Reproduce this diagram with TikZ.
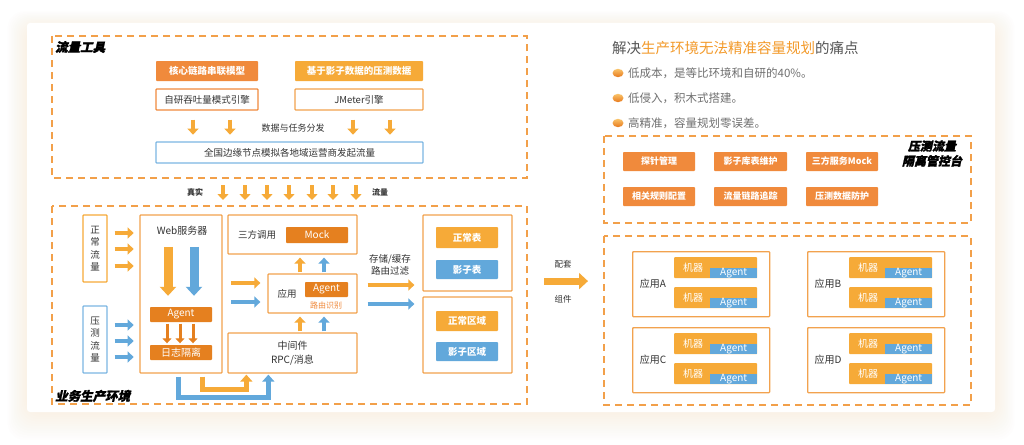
\documentclass[tikz,border=0pt]{standalone}
\usepackage{fontspec}
\setmainfont{Noto Sans CJK SC}
\newfontfamily\headfont{Noto Sans CJK SC}[FakeSlant=0.22,FakeBold=1.5]
\usetikzlibrary{arrows.meta,calc}
\definecolor{oD}{HTML}{E5801F}
\definecolor{oM}{HTML}{F08A3C}
\definecolor{oL}{HTML}{F6AA38}
\definecolor{bF}{HTML}{62A8DB}
\definecolor{bO}{HTML}{F2A24E}
\definecolor{bB}{HTML}{7CB6E2}
\definecolor{dashO}{HTML}{F2A04A}
\definecolor{txt}{HTML}{333333}
\definecolor{txtG}{HTML}{707070}
\definecolor{txtT}{HTML}{555555}
\definecolor{glow}{HTML}{FAD3AA}
\definecolor{titleO}{HTML}{F39A2A}
\definecolor{bulA}{HTML}{F9C46A}
\definecolor{bulB}{HTML}{E8781C}
\tikzset{
  t/.style={font=\fontsize{9.5}{11}\selectfont, text=txt, inner sep=0pt},
  fb/.style={inner sep=0pt, text=white, font=\bfseries\fontsize{9.5}{11}\selectfont, rounded corners=0.8pt},
  fr/.style={inner sep=0pt, text=white, font=\fontsize{10}{11}\selectfont, rounded corners=0.8pt},
  ob/.style={draw=bO, line width=1.3pt, fill=white, inner sep=0pt, rounded corners=0.8pt},
  bb/.style={draw=bB, line width=1.3pt, fill=white, inner sep=0pt, rounded corners=0.8pt},
  db/.style={draw=dashO, line width=1.5pt, dash pattern=on 7pt off 5pt},
  head/.style={font=\headfont\bfseries\fontsize{12.5}{15}\selectfont, text=black, inner sep=0pt},
  oa/.style={draw=oL, line width=4.5pt, -{Triangle[length=6pt,width=11pt]}},
  ba/.style={draw=bF, line width=4.5pt, -{Triangle[length=6pt,width=11pt]}},
  bigo/.style={draw=oL, line width=9pt, -{Triangle[length=9pt,width=16pt]}},
  bigb/.style={draw=bF, line width=9pt, -{Triangle[length=9pt,width=16pt]}},
}
\newcommand\appgrp[4]{%
  \node[ob, minimum width=137pt, minimum height=65pt, anchor=north west] (#1) at (#2,#3) {};
  \node[t, font=\fontsize{10}{11}\selectfont] (#1l) at ($(#1.west)+(21,0)$) {#4};
  \foreach \k/\dy in {1/6,2/36} {
    \node[fr, fill=oL, minimum width=83pt, minimum height=21pt, anchor=north west] (#1m\k) at ($(#1.north west)+(42,\dy)$) {};
    \node[fr, fill=bF, minimum width=47pt, minimum height=10.5pt, anchor=south east, rounded corners=0pt] (#1a\k) at (#1m\k.south east) {Agent};
    \node[fr] (#1t\k) at ($(#1m\k.west)+(19,0)$) {机器};
  }
}
\begin{document}
\begin{tikzpicture}[x=1pt,y=-1pt]
\useasboundingbox (0,0) rectangle (1024,444);
\fill[white] (0,0) rectangle (1024,444);
\foreach \i in {1,...,12} {
  \fill[glow, opacity=0.022, rounded corners=16pt] ({27-1.6*\i},{27-1.3*\i}) rectangle ({995+1.6*\i},{412+2.3*\i});
}
\fill[white, rounded corners=3pt] (27,23) rectangle (995,412);

% ---------- traffic tools ----------
\draw[db] (52,36) rectangle (527,178);
\node[head, anchor=west] (h1) at (55,47) {流量工具};
\node[fb, fill=oM, minimum width=102pt, minimum height=20pt] (m1) at (207,71) {核心链路串联模型};
\node[fb, fill=oL, minimum width=128pt, minimum height=20pt] (m2) at (359,71) {基于影子数据的压测数据};
\node[ob, draw=oM, t, minimum width=102pt, minimum height=21pt] (e1) at (207,99.5) {自研吞吐量模式引擎};
\node[ob, t, minimum width=128pt, minimum height=21pt] (e2) at (359,99.5) {JMeter引擎};
\node[bb, t, minimum width=267pt, minimum height=21pt] (g) at (289.5,152.5) {全国边缘节点模拟各地域运营商发起流量};
\foreach \dx in {-14,23} \draw[oa] ($(e1.south)+(\dx,9)$) -- ($(e1.south)+(\dx,24)$);
\foreach \dx in {-6,31} \draw[oa] ($(e2.south)+(\dx,9)$) -- ($(e2.south)+(\dx,24)$);
\node[t, font=\fontsize{9}{10}\selectfont] (dist) at (293,128) {数据与任务分发};

\node[t, font=\bfseries\fontsize{8}{9}\selectfont] (zs) at (195,192) {真实};
\node[t, font=\bfseries\fontsize{8}{9}\selectfont] (ll) at (380,192) {流量};
\foreach \x in {223,245,267,289,312,333,356} \draw[oa] (\x,185) -- (\x,200);

% ---------- production environment ----------
\draw[db] (52,206) rectangle (527,404);
\node[head, anchor=west] (h2) at (55,396) {业务生产环境};

\node[ob, draw=oL, t, minimum width=24pt, minimum height=67pt, align=center, font=\fontsize{9.5}{12.5}\selectfont] (nf) at (95,248.5) {正\\常\\流\\量};
\node[bb, t, minimum width=24pt, minimum height=67pt, align=center, font=\fontsize{9.5}{12.5}\selectfont] (pf) at (95,339.5) {压\\测\\流\\量};
\foreach \dy in {-15.5,0.5,17.5} \draw[oa] ($(nf.east)+(7,\dy)$) -- ($(nf.east)+(26,\dy)$);
\foreach \dy in {-14.5,1.5,17.5} \draw[ba] ($(pf.east)+(7,\dy)$) -- ($(pf.east)+(26,\dy)$);

\node[ob, minimum width=82pt, minimum height=158pt] (web) at (181,294) {};
\node[t, font=\fontsize{10}{11}\selectfont] (webl) at (182,231) {Web服务器};
\node[fr, fill=oD, minimum width=62pt, minimum height=15pt] (ag1) at (181,314.5) {Agent};
\node[fr, fill=oD, minimum width=62pt, minimum height=15pt] (lg) at (181,352.5) {日志隔离};
\draw[bigo] ($(ag1.north)+(-13,-60)$) -- ($(ag1.north)+(-13,-11)$);
\draw[bigb] ($(ag1.north)+(13,-60)$) -- ($(ag1.north)+(13,-11)$);
\foreach \dx in {-14,-1,12} \draw[draw=oD, line width=3pt, -{Triangle[length=5pt,width=9pt]}] ($(ag1.south)+(\dx,1.5)$) -- ($(lg.north)+(\dx,-1.5)$);

\node[ob, minimum width=129pt, minimum height=39pt] (tp) at (292.5,234.5) {};
\node[t] (tpl) at (257,235) {三方调用};
\node[fr, fill=oD, minimum width=62pt, minimum height=16pt] (mock) at (317,235) {Mock};
\node[ob, minimum width=89pt, minimum height=39pt] (app) at (312.5,293.5) {};
\node[t] (appl) at (287,294) {应用};
\node[fr, fill=oD, minimum width=43pt, minimum height=15pt] (ag2) at (326.5,289.5) {Agent};
\node[t, text=oM, font=\fontsize{8}{9}\selectfont] (ly) at (326,305) {路由识别};
\node[ob, t, minimum width=129pt, minimum height=40pt, align=center, font=\fontsize{10}{14}\selectfont] (mid) at (292.5,353) {中间件\\RPC/消息};

\draw[oa] ($(app.north)+(-12.5,-1)$) -- ($(tp.south)+(7.5,3)$);
\draw[ba] ($(app.north)+(11.5,-1)$) -- ($(tp.south)+(31.5,3)$);
\draw[oa] ($(mid.north)+(7.5,-1)$) -- ($(app.south)+(-12.5,3)$);
\draw[ba] ($(mid.north)+(31.5,-1)$) -- ($(app.south)+(11.5,3)$);
\draw[oa] ($(app.west)+(-36,-10.5)$) -- ($(app.west)+(-7,-10.5)$);
\draw[ba] ($(app.west)+(-36,8.5)$) -- ($(app.west)+(-7,8.5)$);

\node[ob, minimum width=89pt, minimum height=76pt] (tb) at (467.5,253) {};
\node[fb, fill=oL, minimum width=62pt, minimum height=21pt] (zc) at (467,237.5) {正常表};
\node[fb, fill=bF, minimum width=62pt, minimum height=19pt] (yz) at (467,269.5) {影子表};
\node[ob, minimum width=89pt, minimum height=76pt] (rg) at (467.5,335) {};
\node[fb, fill=oL, minimum width=62pt, minimum height=20pt] (zq) at (467,321) {正常区域};
\node[fb, fill=bF, minimum width=62pt, minimum height=19pt] (yq) at (467,351.5) {影子区域};
\draw[oa] ($(app.east)+(10,-8.5)$) -- ($(tb.west)+(-8,32)$);
\draw[ba] ($(app.east)+(10,10.5)$) -- ($(rg.west)+(-8,-31)$);
\node[t, font=\fontsize{9.5}{12}\selectfont, align=center] (cc) at (390,265) {存储/缓存\\路由过滤};

\draw[draw=bF, line width=4.5pt, line join=miter, -{Triangle[length=7pt,width=12pt]}] ($(web.south west)+(39,3)$) |- ($(mid.south west)+(41,24)$) -- ($(mid.south west)+(41,1)$);
\draw[draw=oL, line width=4.5pt, line join=miter, -{Triangle[length=7pt,width=12pt]}] ($(web.south west)+(63,3)$) |- ($(mid.south west)+(19,16)$) -- ($(mid.south west)+(19,1)$);

% ---------- middle arrow ----------
\node[t, font=\fontsize{8.5}{9}\selectfont] (pt) at (563,264) {配套};
\node[t, font=\fontsize{8.5}{9}\selectfont] (zj) at (563,299) {组件};
\draw[draw=oL, line width=7pt, -{Triangle[length=9pt,width=16pt]}] ($(pt.south)+(-19,13)$) -- ($(pt.south)+(25,13)$);

% ---------- right panel ----------
\node[anchor=west, inner sep=0pt, font=\fontsize{14.5}{16}\selectfont, text=txtT] (title) at (612,48) {解决{\color{titleO}生产环境无法精准容量规划}的痛点};
\foreach \y in {73,98,123} \shade[top color=bulA, bottom color=bulB] (618,\y) ellipse [x radius=5.5pt, y radius=4.2pt];
\node[anchor=west, inner sep=0pt, font=\fontsize{11.5}{13}\selectfont, text=txtG] (b1) at (628,73) {低成本，是等比环境和自研的40\%。};
\node[anchor=west, inner sep=0pt, font=\fontsize{11.5}{13}\selectfont, text=txtG] (b2) at (628,98) {低侵入，积木式搭建。};
\node[anchor=west, inner sep=0pt, font=\fontsize{11.5}{13}\selectfont, text=txtG] (b3) at (628,123) {高精准，容量规划零误差。};

\draw[db] (604,136) rectangle (971,223);
\node[head, align=center, font=\headfont\bfseries\fontsize{12}{15}\selectfont] (h3) at (932,153.5) {压测流量\\隔离管控台};
\node[fb, fill=oM, minimum width=72pt, minimum height=19pt, font=\bfseries\fontsize{9}{10}\selectfont] (c1) at (659,161.5) {探针管理};
\node[fb, fill=oM, minimum width=73pt, minimum height=19pt, font=\bfseries\fontsize{9}{10}\selectfont] (c2) at (750.5,161.5) {影子库表维护};
\node[fb, fill=oM, minimum width=72pt, minimum height=19pt, font=\bfseries\fontsize{9}{10}\selectfont] (c3) at (842,161.5) {三方服务Mock};
\node[fb, fill=oM, minimum width=72pt, minimum height=19pt, font=\bfseries\fontsize{9}{10}\selectfont] (c4) at (659,196.5) {相关规则配置};
\node[fb, fill=oM, minimum width=73pt, minimum height=19pt, font=\bfseries\fontsize{9}{10}\selectfont] (c5) at (750.5,196.5) {流量链路追踪};
\node[fb, fill=oM, minimum width=72pt, minimum height=19pt, font=\bfseries\fontsize{9}{10}\selectfont] (c6) at (842,196.5) {压测数据防护};

\draw[db] (604,236) rectangle (971,405);
\appgrp{apA}{632}{251}{应用A}
\appgrp{apB}{807}{251}{应用B}
\appgrp{apC}{632}{327}{应用C}
\appgrp{apD}{807}{327}{应用D}
\end{tikzpicture}
\end{document}
